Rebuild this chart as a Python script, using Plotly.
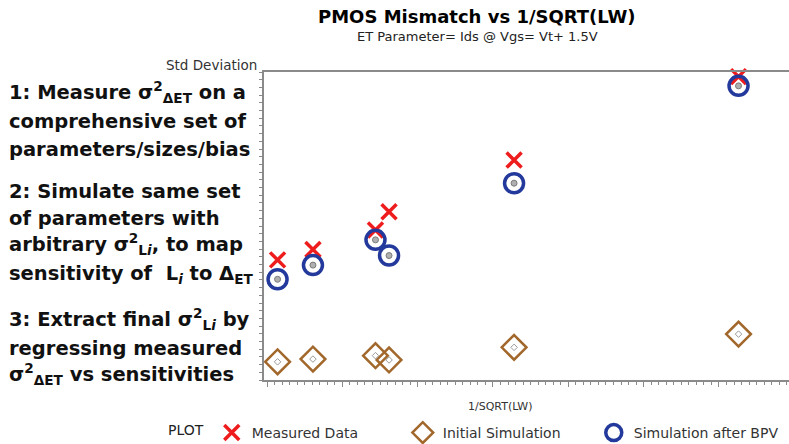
import plotly.graph_objects as go

# 1/SQRT(LW) for each device size
x_vals = [0.07, 0.305, 0.72, 0.81, 1.64, 3.13]

# Std deviation of the ET parameter
measured = [3.90, 4.24, 4.87, 5.46, 7.14, 9.85]
initial_sim = [0.59, 0.68, 0.79, 0.65, 1.06, 1.49]
after_bpv = [3.27, 3.73, 4.55, 4.04, 6.39, 9.55]

series_names = ["Measured Data", "Initial Simulation", "Simulation after BPV"]

steps = [
    ["1: Measure σ<sup>2</sup><sub>ΔET</sub> on a",
     "comprehensive set of",
     "parameters/sizes/bias"],
    ["2: Simulate same set",
     "of parameters with",
     "arbitrary σ<sup>2</sup><sub>L<i>i</i></sub>, to map",
     "sensitivity of  L<sub><i>i</i></sub> to Δ<sub>ET</sub>"],
    ["3: Extract final σ<sup>2</sup><sub>L<i>i</i></sub> by",
     "regressing measured",
     "σ<sup>2</sup><sub>ΔET</sub> vs sensitivities"],
]

W, H = 789, 444
ML, MR, MT, MB = 264, 0, 72, 64
PW, PH = W - ML - MR, H - MT - MB


def px(xp):
    return (xp - ML) / PW


def py(yp):
    return (H - MB - yp) / PH


RED = "#EE1C1C"
BLUE = "#23399B"
BROWN = "#A2672B"
GREY = "#9A9A9A"
AXIS = "#8A8A8A"
BODY = "DejaVu Sans"

fig = go.Figure()

fig.add_trace(go.Scatter(
    x=x_vals, y=measured, mode="markers", name=series_names[0],
    marker=dict(symbol="x-thin", size=15, line=dict(color=RED, width=3.5), color=RED),
    cliponaxis=False,
))
fig.add_trace(go.Scatter(
    x=x_vals, y=initial_sim, mode="markers", name=series_names[1],
    marker=dict(symbol="diamond-open", size=19, color=BROWN, line=dict(color=BROWN, width=2.5)),
    cliponaxis=False,
))
fig.add_trace(go.Scatter(
    x=x_vals, y=initial_sim, mode="markers", showlegend=False, hoverinfo="skip",
    marker=dict(symbol="diamond-open", size=5, color=GREY, line=dict(color=GREY, width=1)),
))
fig.add_trace(go.Scatter(
    x=x_vals, y=after_bpv, mode="markers", name=series_names[2],
    marker=dict(symbol="circle-open", size=19, color=BLUE, line=dict(color=BLUE, width=3.5)),
    cliponaxis=False,
))
fig.add_trace(go.Scatter(
    x=x_vals, y=after_bpv, mode="markers", showlegend=False, hoverinfo="skip",
    marker=dict(symbol="circle", size=6, color="#B0B0B0", line=dict(color="#7A7A7A", width=1)),
))

annotations = []
# vertical centre of the first line of each step, and the line pitch (pixels)
first_centres = [93, 190, 320]
LINE_PITCH = 27.5
STEP_SIZE = 19.5
for lines, centre in zip(steps, first_centres):
    for i, line in enumerate(lines):
        # raised superscripts grow the text box upwards
        offset = 17 if "<sup>" in line else 12.2
        annotations.append(dict(
            text=line, xref="paper", yref="paper",
            x=px(7), y=py(centre + i * LINE_PITCH - offset),
            xanchor="left", yanchor="top", align="left", showarrow=False,
            font=dict(family=BODY, size=STEP_SIZE, color="#111111", weight="bold"),
        ))

annotations += [
    dict(text="PMOS Mismatch vs 1/SQRT(LW)", xref="paper", yref="paper",
         x=px(476), y=py(17), xanchor="center", yanchor="middle", showarrow=False,
         font=dict(family=BODY, size=18, color="#000000", weight="bold")),
    dict(text="ET Parameter= Ids @ Vgs= Vt+ 1.5V", xref="paper", yref="paper",
         x=px(477), y=py(36), xanchor="center", yanchor="middle", showarrow=False,
         font=dict(family=BODY, size=13, color="#222222")),
    dict(text="Std Deviation", xref="paper", yref="paper",
         x=px(259), y=py(65), xanchor="right", yanchor="middle", showarrow=False,
         font=dict(family=BODY, size=13.5, color="#333333")),
    dict(text="1/SQRT(LW)", xref="paper", yref="paper",
         x=px(500), y=py(406), xanchor="center", yanchor="middle", showarrow=False,
         font=dict(family=BODY, size=11, color="#333333")),
]

fig.update_layout(
    width=W, height=H,
    margin=dict(l=ML, r=MR, t=MT, b=MB, pad=0, autoexpand=False),
    paper_bgcolor="white", plot_bgcolor="white",
    annotations=annotations,
    showlegend=True,
    legend=dict(
        orientation="h", x=px(166), y=py(433), xanchor="left", yanchor="middle",
        entrywidth=146, entrywidthmode="pixels",
        title=dict(text="PLOT", side="left", font=dict(family=BODY, size=14, color="#222222")),
        font=dict(family=BODY, size=14, color="#333333"),
        itemsizing="trace", bgcolor="rgba(0,0,0,0)",
    ),
    xaxis=dict(
        range=[-0.02, 3.465], showgrid=False, zeroline=False,
        showline=True, linecolor=AXIS, linewidth=1.5, mirror=True,
        ticks="outside", tick0=0, dtick=0.5, ticklen=5, tickcolor=AXIS, tickwidth=1,
        showticklabels=False,
        minor=dict(ticks="outside", dtick=0.05, ticklen=3, tickcolor=AXIS, tickwidth=1),
    ),
    yaxis=dict(
        range=[0, 10], showgrid=False, zeroline=False,
        showline=True, linecolor=AXIS, linewidth=1.5, mirror=False,
        ticks="outside", tick0=0, dtick=0.25, ticklen=3, tickcolor=AXIS, tickwidth=1,
        showticklabels=False,
    ),
)

fig.write_html("out.html")
